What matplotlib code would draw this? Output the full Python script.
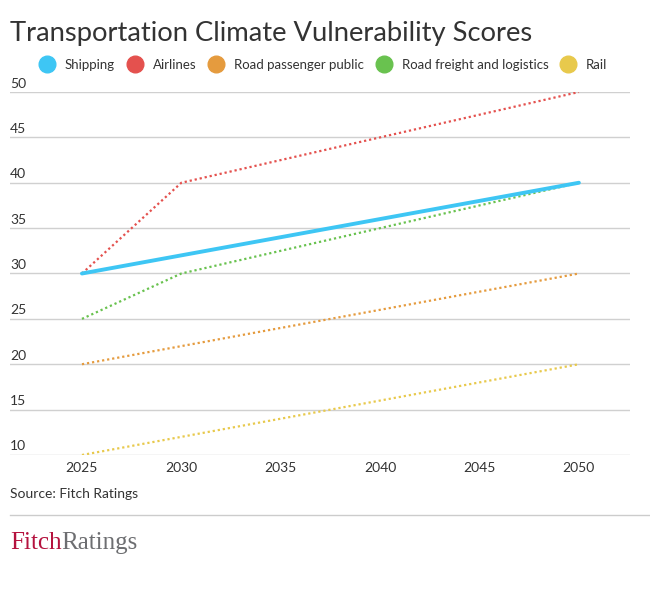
import matplotlib.pyplot as plt
import matplotlib.transforms as mtransforms
from matplotlib.lines import Line2D

plt.rcParams['font.family'] = ['Lato', 'DejaVu Sans']

years = [2025, 2030, 2050]
series_names = ['Shipping', 'Airlines', 'Road passenger public',
                'Road freight and logistics', 'Rail']
shipping = [30, 32, 40]
airlines = [30, 40, 50]
road_passenger = [20, 22, 30]
road_freight = [25, 30, 40]
rail = [10, 12, 20]
x_ticks = [2025, 2030, 2035, 2040, 2045, 2050]
y_ticks = [10, 15, 20, 25, 30, 35, 40, 45, 50]

colors = ['#3ec6f4', '#e4514e', '#e59b3e', '#69c24f', '#e8c94c']
all_series = [shipping, airlines, road_passenger, road_freight, rail]

fig = plt.figure(figsize=(6.5, 6.02), dpi=100)
ax = fig.add_axes([10 / 650, 147 / 602, 620 / 650, 363 / 602])

# draw back to front so shipping sits on top
for vals, col, name in reversed(list(zip(all_series, colors, series_names))):
    if name == 'Shipping':
        ax.plot(years, vals, color=col, lw=2.8, solid_capstyle='round', zorder=5)
    else:
        ax.plot(years, vals, color=col, lw=1.6, ls=(0, (1, 1.3)), zorder=4)

ax.set_xlim(2021.38, 2052.57)
ax.set_ylim(10, 50)
ax.set_xticks(x_ticks)
ax.set_xticklabels([str(t) for t in x_ticks], fontsize=10, color='#333333')
ax.tick_params(axis='x', length=0, pad=5)
ax.set_yticks(y_ticks)
ax.set_yticklabels([])
ax.tick_params(axis='y', length=0)
ax.grid(axis='y', color='#d0d0d0', lw=1)
ax.set_axisbelow(True)
for s in ax.spines.values():
    s.set_visible(False)

trans = mtransforms.blended_transform_factory(ax.transAxes, ax.transData)
off = mtransforms.ScaledTranslation(0, 2.5 / 100, fig.dpi_scale_trans)
for t in y_ticks:
    ax.text(0, t, str(t), transform=trans + off, ha='left', va='bottom',
            fontsize=10, color='#333333')

fig.text(10 / 650, 1 - 33 / 602, 'Transportation Climate Vulnerability Scores',
         fontsize=19.7, color='#333333', va='center', ha='left')

handles = [Line2D([], [], marker='o', ls='none', markersize=12,
                  markerfacecolor=c, markeredgecolor=c) for c in colors]
fig.legend(handles, series_names, loc='center', ncol=5,
           bbox_to_anchor=(324 / 650, 1 - 65 / 602), frameon=False,
           fontsize=9.5, handletextpad=0.86, columnspacing=1.0,
           labelcolor='#333333', handlelength=1.0)

fig.text(10 / 650, 1 - 494 / 602, 'Source: Fitch Ratings', fontsize=10,
         color='#333333', va='center', ha='left')
fig.add_artist(Line2D([10 / 650, 1], [1 - 515 / 602, 1 - 515 / 602],
                      color='#cccccc', lw=1))

logo = fig.text(10 / 650, 1 - 543 / 602, 'Fitch', fontsize=18,
                family='Liberation Serif', color='#b5123e', va='center', ha='left')
fig.canvas.draw()
bb = logo.get_window_extent()
fig.text(bb.x1 / 650, 1 - 543 / 602, 'Ratings', fontsize=18,
         family='Liberation Serif', color='#6d6e71', va='center', ha='left')

fig.savefig('out.png', dpi=100)
